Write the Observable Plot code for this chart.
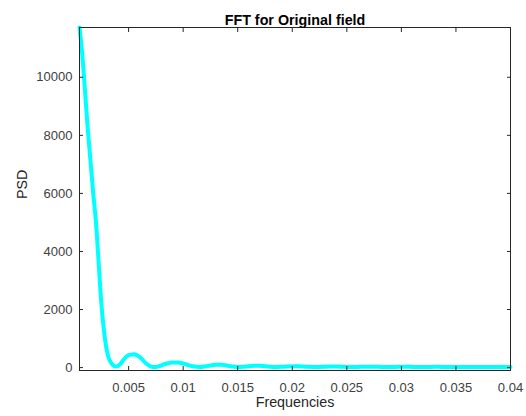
<!DOCTYPE html>
<html>
<head>
<meta charset="utf-8">
<script src="https://cdn.jsdelivr.net/npm/d3@7"></script>
<script src="https://cdn.jsdelivr.net/npm/@observablehq/plot@0.6"></script>
<style>
  html, body { margin: 0; padding: 0; background: #fff; }
  #chart svg { display: block; font-family: "Liberation Sans", Arial, sans-serif; }
</style>
</head>
<body>
<div id="chart"></div>
<script>
const titleText = "FFT for Original field";
const xLabel = "Frequencies";
const yLabel = "PSD";

const freq = [
  0.0005, 0.00075, 0.001, 0.00125, 0.0015, 0.00175, 0.002, 0.00225, 0.0025, 0.00275,
  0.003, 0.00325, 0.0035, 0.00375, 0.004, 0.00425, 0.0045, 0.00475, 0.005, 0.00525,
  0.0055, 0.00575, 0.006, 0.00625, 0.0065, 0.00675, 0.007, 0.00725, 0.0075, 0.00775,
  0.008, 0.0085, 0.009, 0.0095, 0.01, 0.0105, 0.011, 0.0115, 0.012, 0.0125,
  0.013, 0.0135, 0.014, 0.0145, 0.015, 0.0155, 0.016, 0.0165, 0.017, 0.0175,
  0.018, 0.0185, 0.019, 0.0195, 0.02, 0.0205, 0.021, 0.0215, 0.022, 0.0225,
  0.023, 0.0235, 0.024, 0.0245, 0.025, 0.0255, 0.026, 0.0265, 0.027, 0.0275,
  0.028, 0.0285, 0.029, 0.0295, 0.03, 0.0305, 0.031, 0.0315, 0.032, 0.0325,
  0.033, 0.0335, 0.034, 0.0345, 0.035, 0.0355, 0.036, 0.0365, 0.037, 0.0375,
  0.038, 0.0385, 0.039, 0.0395, 0.04
];
const psd = [
  11714, 10800, 9550, 8250, 7150, 6030, 5050, 3650, 2230, 1250,
  600, 260, 110, 40, 50, 130, 250, 360, 430, 445,
  460, 430, 370, 280, 180, 100, 45, 20, 20, 40,
  75, 140, 175, 175, 140, 85, 35, 20, 40, 75,
  100, 95, 70, 35, 20, 30, 50, 62, 62, 50,
  30, 20, 25, 38, 45, 45, 38, 25, 20, 22,
  30, 36, 36, 30, 22, 20, 22, 28, 32, 30,
  25, 20, 20, 24, 28, 28, 24, 20, 20, 22,
  25, 25, 22, 20, 20, 22, 24, 23, 21, 20,
  20, 22, 23, 22, 20
];

const xTicks = [0.005, 0.01, 0.015, 0.02, 0.025, 0.03, 0.035, 0.04];
const yTicks = [0, 2000, 4000, 6000, 8000, 10000];
const xDomain = [0.0005, 0.04];
const yDomain = [-100, 11714];

const data = freq.map((f, i) => ({f, p: psd[i]}));
const ink = "#262626";
const tickInk = "#404040";

const chart = Plot.plot({
  width: 526,
  height: 416,
  marginLeft: 79,
  marginRight: 16,
  marginTop: 27,
  marginBottom: 46,
  style: {fontFamily: "'Liberation Sans', Arial, sans-serif", fontSize: "13px", color: ink, background: "#fff"},
  x: {domain: xDomain},
  y: {domain: yDomain},
  marks: [
    Plot.line(data, {x: "f", y: "p", stroke: "#00ffff", strokeWidth: 4, curve: "catmull-rom"}),
    Plot.frame({stroke: ink, strokeWidth: 1}),
    Plot.axisX(xTicks, {anchor: "bottom", tickSize: -4, tickPadding: 16, tickFormat: d => String(d), label: null, stroke: ink, fill: tickInk, fontSize: 13}),
    Plot.axisX(xTicks, {anchor: "top", tickSize: -4, tickFormat: () => "", label: null, stroke: ink}),
    Plot.axisY(yTicks, {anchor: "left", tickSize: -4, tickPadding: 11, tickFormat: d => String(d), label: null, stroke: ink, fill: tickInk, fontSize: 13}),
    Plot.axisY(yTicks, {anchor: "right", tickSize: -4, tickFormat: () => "", label: null, stroke: ink}),
    Plot.text([titleText], {text: d => d, frameAnchor: "top", dy: -13, fontWeight: "bold", fontSize: 14.3, fill: "#000"}),
    Plot.text([xLabel], {text: d => d, frameAnchor: "bottom", dy: 36, fontSize: 14.3, fill: ink}),
    Plot.text([yLabel], {text: d => d, frameAnchor: "left", dx: -57, rotate: -90, fontSize: 14.3, fill: ink})
  ]
});
document.getElementById("chart").appendChild(chart);
</script>
</body>
</html>
